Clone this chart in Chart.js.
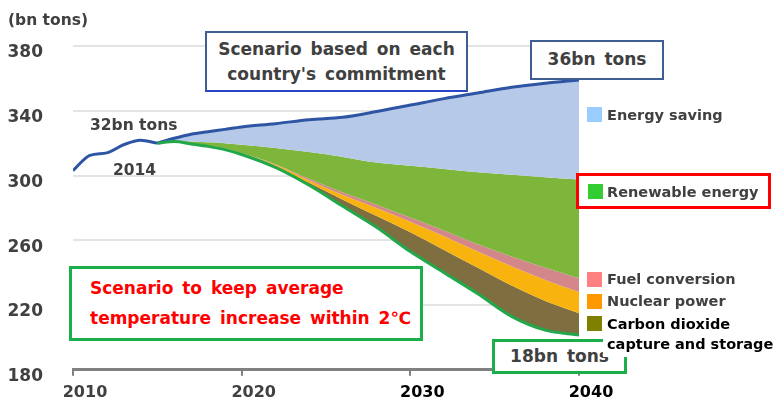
<!DOCTYPE html>
<html>
<head>
<meta charset="utf-8">
<script src="https://cdn.jsdelivr.net/npm/chart.js@4.4.1/dist/chart.umd.min.js"></script>
<style>
  html, body { margin: 0; padding: 0; background: #fff; }
  #wrap { position: relative; width: 778px; height: 410px; font-family: 'DejaVu Sans', sans-serif; font-weight: bold; color: #404040; }
  #c { position: absolute; left: 0; top: 0; }
  .note { position: absolute; white-space: nowrap; box-sizing: border-box; }
  .box { background: #fff; text-align: center; }
  .sq { position: absolute; width: 15px; height: 15px; }
</style>
</head>
<body>
<div id="wrap">
  <canvas id="c" width="778" height="410"></canvas>

  <div class="note" style="left:8px;top:10px;font-size:15.5px;line-height:20px">(bn tons)</div>

  <div class="note box" style="left:205px;top:31px;width:263px;height:61px;border:2.5px solid #3d5f93;border-bottom-color:#2a44c8;font-size:17px;line-height:25px;padding-top:4px;word-spacing:3px">Scenario based on each<br>country's commitment</div>
  <div class="note box" style="left:530px;top:40px;width:134px;height:40px;border:2.5px solid #3d5f93;font-size:17px;line-height:35px;word-spacing:3px">36bn tons</div>

  <div class="note" style="left:90px;top:116px;font-size:15.5px;line-height:18px">32bn tons</div>
  <div class="note" style="left:113px;top:161px;font-size:15.5px;line-height:18px">2014</div>

  <div class="note box" style="left:69px;top:266px;width:354px;height:75px;border:3px solid #1aaf4b;text-align:left;color:#ff0000;font-size:17px;line-height:30px;padding:4px 0 0 18px;word-spacing:3px">Scenario to keep average<br>temperature increase within 2℃</div>
  <div class="note box" style="left:492px;top:339px;width:135px;height:35px;border:3px solid #1aaf4b;font-size:17px;line-height:29px;word-spacing:3px">18bn tons</div>

  <div id="legend"></div>
</div>

<script>
// ── Data ──────────────────────────────────────
const histYears = [2010, 2011, 2012, 2013, 2014, 2015];
const histTotal = [303, 312.5, 314, 319, 321.8, 320];

const years      = [2015, 2016, 2017, 2018, 2019, 2020, 2022, 2024, 2026, 2028, 2030, 2032, 2034, 2036, 2038, 2040];
const commitTop  = [320, 323, 325.5, 327, 328.5, 330, 332, 334.5, 336, 339.5, 343.5, 347.5, 351, 354.5, 357, 359];
const renewTop   = [320, 321.5, 321, 320.5, 320, 319, 317, 314.5, 311.5, 308, 306, 304, 302, 300.5, 299, 297.5];
const fuelTop    = [320, 321, 319.8, 318.5, 316.8, 313.9, 307, 298, 289.5, 282, 274, 266, 257.5, 250, 243, 236.5];
const nuclearTop = [320, 321, 319.7, 318.4, 316.6, 313.7, 306.6, 297, 288, 280, 271.5, 262.5, 253, 244, 235.5, 228];
const ccsTop     = [320, 321, 319.6, 318.2, 316.3, 313.4, 305.8, 295.5, 285, 275, 265, 254, 243, 232, 222.5, 215];
const twoDegree  = [320, 321, 319.5, 318, 316, 313, 305, 294, 281, 268, 253, 240, 227, 213, 204.5, 201.5];

const yTicks = [180, 220, 260, 300, 340, 380];
const xTicks = [2010, 2020, 2030, 2040];

const legendLabels = ['Energy saving', 'Renewable energy', 'Fuel conversion', 'Nuclear power', 'Carbon dioxide<br>capture and storage'];
const legendColors = ['#99ccff', '#33cc33', '#ff8080', '#ff9900', '#808000'];

// ── Legend (HTML) ─────────────────────────────
const legendPos = [
  { sq: [587, 107], txt: [607, 106], lh: 18 },
  { sq: [588, 184], txt: [607, 183], lh: 18 },
  { sq: [587, 272], txt: [607, 270], lh: 18 },
  { sq: [587, 294], txt: [607, 292], lh: 18 },
  { sq: [587, 316], txt: [603, 314], lh: 20 }
];
const legendEl = document.getElementById('legend');
let html = '<div class="note" style="left:576px;top:173px;width:195px;height:36px;border:3px solid #ff0000"></div>';
legendLabels.forEach((lab, i) => {
  const p = legendPos[i];
  const last = i === legendLabels.length - 1;
  html += '<div class="sq" style="left:' + p.sq[0] + 'px;top:' + p.sq[1] + 'px;background:' + legendColors[i] + '"></div>';
  html += '<div class="note" style="left:' + p.txt[0] + 'px;top:' + p.txt[1] + 'px;font-size:14.5px;line-height:' + p.lh + 'px;' +
    (last ? 'color:#000;background:#fff;padding-left:4px;width:175px;height:43px;' : '') + '">' + lab + '</div>';
});
legendEl.innerHTML = html;

// ── Chart ─────────────────────────────────────
const pts = arr => years.map((x, i) => ({ x, y: arr[i] }));

const base = {
  pointRadius: 0,
  borderWidth: 0,
  cubicInterpolationMode: 'monotone'
};

new Chart(document.getElementById('c'), {
  type: 'line',
  data: {
    datasets: [
      { ...base, label: 'history', data: histYears.map((x, i) => ({ x, y: histTotal[i] })),
        borderColor: '#2e55a3', borderWidth: 3, fill: false },
      { ...base, label: '2 degree scenario', data: pts(twoDegree),
        borderColor: '#22a84a', borderWidth: 3, fill: false },
      { ...base, label: 'commitment', data: pts(commitTop),
        borderColor: '#2e55a3', borderWidth: 3, backgroundColor: '#b7c9e8', fill: 3 },
      { ...base, label: 'Renewable energy', data: pts(renewTop), backgroundColor: '#7db63b', fill: 4 },
      { ...base, label: 'Fuel conversion', data: pts(fuelTop), backgroundColor: '#d3878a', fill: 5 },
      { ...base, label: 'Nuclear power', data: pts(nuclearTop), backgroundColor: '#f9b30f', fill: 6 },
      { ...base, label: 'CCS', data: pts(ccsTop), backgroundColor: '#7f6e40', fill: 1 }
    ]
  },
  options: {
    responsive: false,
    animation: false,
    layout: { padding: { left: 8, right: 199, top: 46, bottom: 0 } },
    plugins: { legend: { display: false }, tooltip: { enabled: false } },
    scales: {
      x: {
        type: 'linear',
        min: 2010, max: 2040,
        afterBuildTicks: s => { s.ticks = xTicks.map(v => ({ value: v })); },
        afterFit: s => { s.height = 35; },
        grid: { display: true, drawOnChartArea: false, drawTicks: true, tickLength: 6, color: '#7f7f7f', lineWidth: 2 },
        border: { display: true, color: '#808080', width: 3 },
        ticks: {
          padding: 7,
          labelOffset: 12,
          maxRotation: 0,
          color: ctx => ctx.tick && ctx.tick.value >= 2030 ? '#000' : '#404040',
          font: { family: 'DejaVu Sans', size: 16, weight: 'bold' },
          callback: v => String(v)
        }
      },
      y: {
        min: 180, max: 380,
        afterBuildTicks: s => { s.ticks = yTicks.map(v => ({ value: v })); },
        afterFit: s => { s.width = 65; },
        grid: {
          drawTicks: false,
          lineWidth: 2,
          color: ctx => ctx.tick && ctx.tick.value === 180 ? 'rgba(0,0,0,0)' : '#e4e4e4'
        },
        border: { display: false },
        ticks: {
          padding: 30,
          labelOffset: 7,
          color: '#404040',
          font: { family: 'DejaVu Sans', size: 17, weight: 'bold' }
        }
      }
    }
  }
});
</script>
</body>
</html>
